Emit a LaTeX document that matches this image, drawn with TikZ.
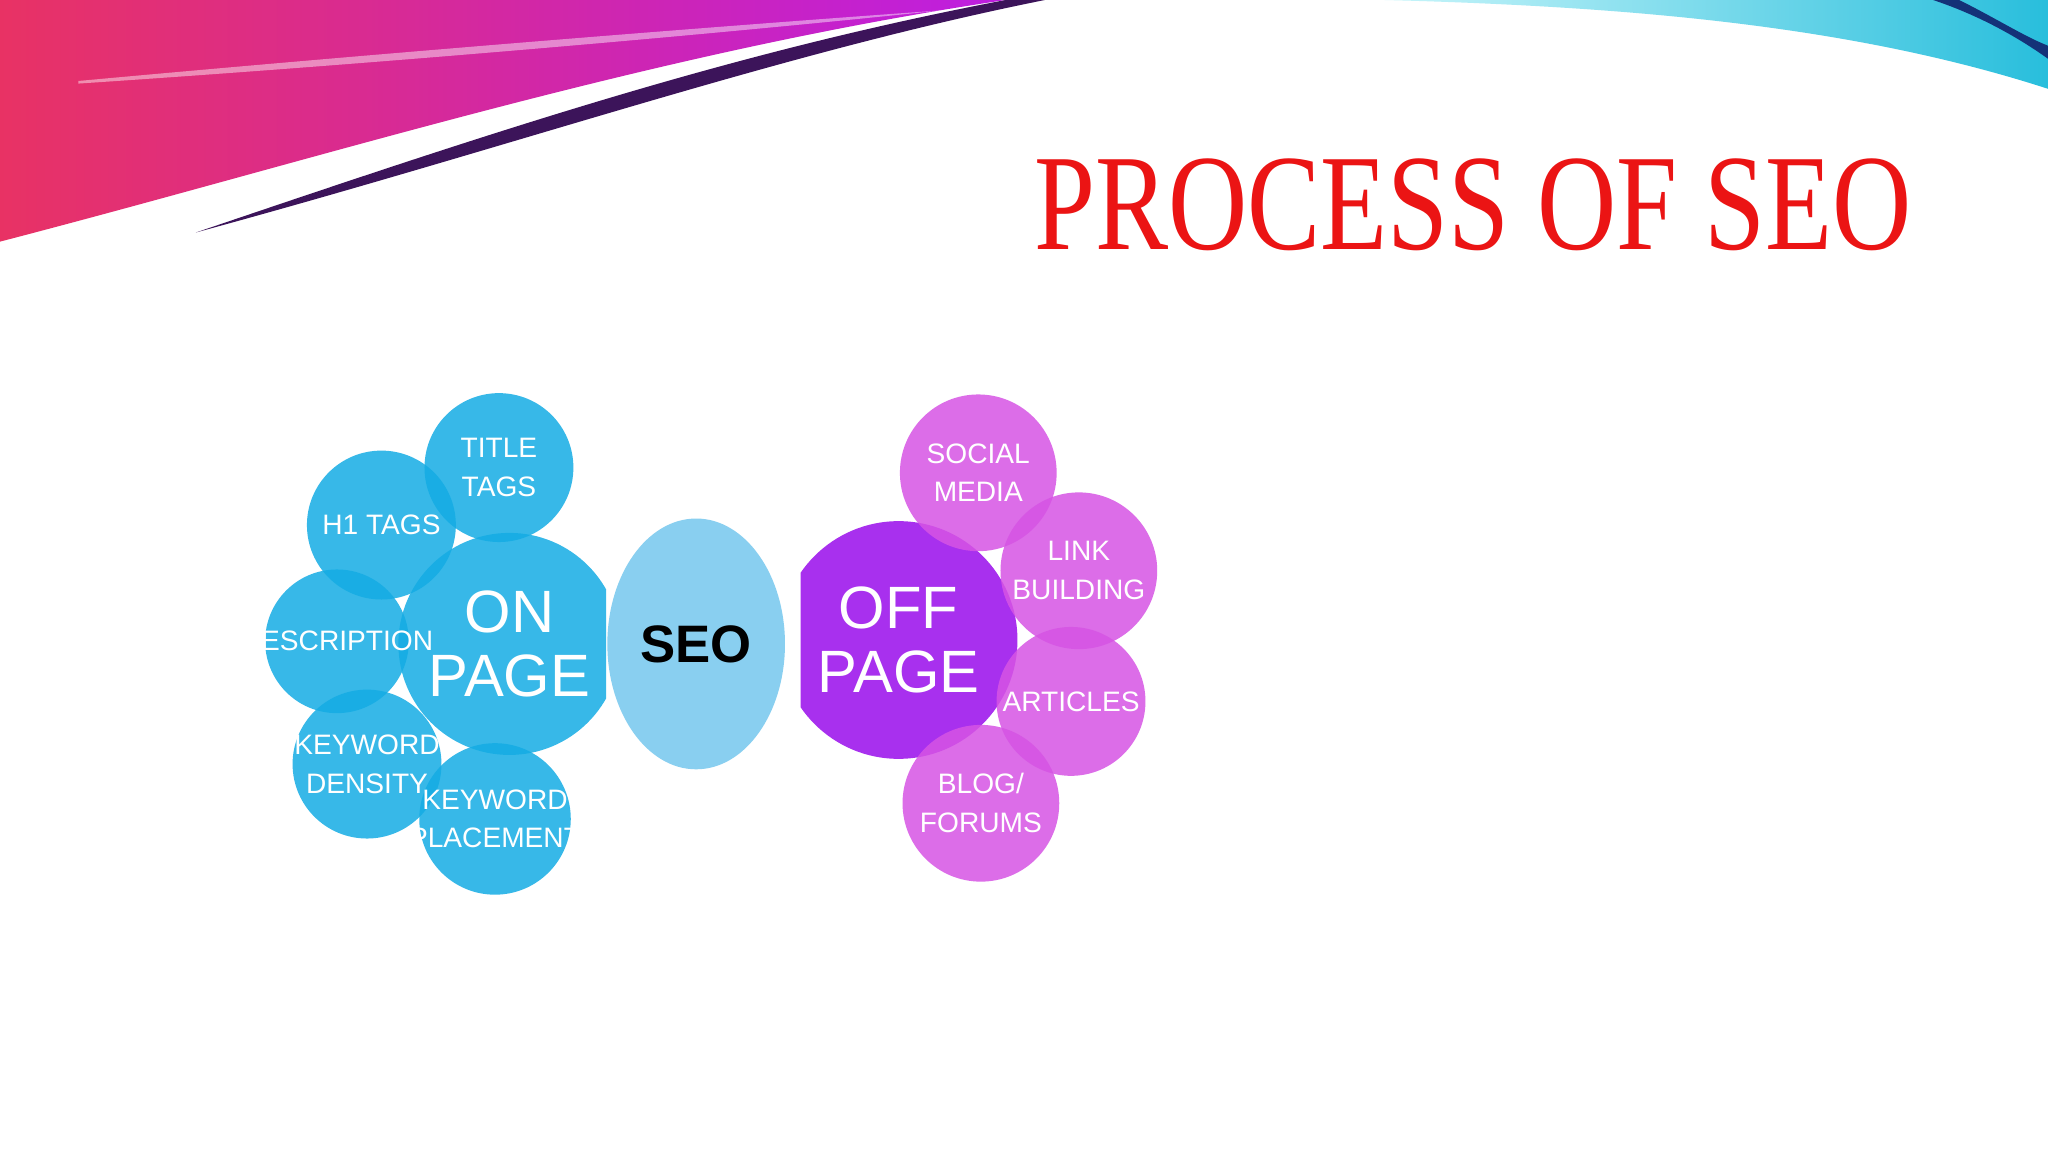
\documentclass[tikz,border=0pt]{standalone}
\usepackage{fontspec}
\setmainfont{Liberation Serif}
\newfontfamily\sans{Liberation Sans}
\usetikzlibrary{shapes.geometric}
\definecolor{blu}{RGB}{20,172,228}
\definecolor{seoc}{RGB}{137,207,240}
\definecolor{purp}{RGB}{168,48,238}
\definecolor{mag}{RGB}{214,84,228}
\definecolor{ttl}{RGB}{235,20,20}
\definecolor{swl}{RGB}{232,50,100}
\definecolor{swr}{RGB}{190,30,225}
\definecolor{swd}{RGB}{60,20,90}
\definecolor{cyl}{RGB}{200,245,250}
\definecolor{cyr}{RGB}{40,190,220}
\definecolor{dbl}{RGB}{20,50,120}
\def\pxu{0.013061cm}
\tikzset{
 bc/.style={circle,fill=blu,fill opacity=0.85,inner sep=0,minimum size=#1*\pxu},
 pc/.style={circle,fill=mag,fill opacity=0.85,inner sep=0,minimum size=#1*\pxu},
 lbl/.style={text=white,font=\sans\fontsize{8}{11}\selectfont,align=center,inner sep=0},
 big/.style={text=white,font=\sans\fontsize{17}{18}\selectfont,align=center,inner sep=0},
}
\begin{document}
\begin{tikzpicture}[x=0.013061cm,y=-0.013061cm]
\useasboundingbox (0,0) rectangle (1568,882);
\fill[white] (0,0) rectangle (1568,882);
% left swoosh
\shade[left color=swl, right color=swr]
 (0,0) -- (770,0) .. controls (500,40) and (250,120) .. (0,185) -- cycle;
\fill[white,opacity=0.45] (60,62) .. controls (300,40) and (550,20) .. (720,8) .. controls (550,26) and (300,48) .. (60,64) -- cycle;
\fill[swd] (150,178) .. controls (400,110) and (600,40) .. (800,0) -- (770,0) .. controls (560,40) and (380,100) .. (150,178) -- cycle;
% right swoosh
\shade[left color=cyl, right color=cyr]
 (1060,0) -- (1568,0) -- (1568,68) .. controls (1420,20) and (1250,5) .. (1060,0) -- cycle;
\fill[dbl] (1480,0) -- (1500,0) .. controls (1530,15) and (1550,28) .. (1568,35) -- (1568,45) .. controls (1540,25) and (1510,10) .. (1480,0) -- cycle;
% title
\node[text=ttl,font=\fontsize{39}{39}\selectfont,xscale=0.8,inner sep=0] (title) at (1128,157) {PROCESS OF SEO};
% blue cluster
\begin{scope}
\clip (195,295) rectangle (464,695);
\node[bc=170] (on) at (390,493) {};
\node[bc=114] (tt) at (382,358) {};
\node[bc=114] (h1) at (292,402) {};
\node[bc=110] (de) at (258,491) {};
\node[bc=114] (kd) at (281,585) {};
\node[bc=116] (kp) at (379,627) {};
\node[big] (ont) at (on.center) {ON\\ PAGE};
\node[lbl] (ttt) at (tt.center) {TITLE\\ TAGS};
\node[lbl] (h1t) at (h1.center) {H1 TAGS};
\node[lbl] (det) at (de.center) {DESCRIPTION};
\node[lbl] (kdt) at (kd.center) {KEYWORD\\ DENSITY};
\node[lbl] (kpt) at (kp.center) {KEYWORD\\ PLACEMENT};
\end{scope}
\node[ellipse,fill=seoc,inner sep=0,minimum width=136*\pxu,minimum height=192*\pxu,font=\sans\bfseries\fontsize{15}{16}\selectfont] (seo) at (533,493) {SEO};
% purple cluster
\begin{scope}
\clip (613,295) rectangle (900,695);
\node[circle,fill=purp,minimum size=182*\pxu,inner sep=0] (off) at (688,490) {};
\node[pc=120] (sm) at (749,362) {};
\node[pc=120] (lb) at (826,437) {};
\node[pc=114] (ar) at (820,537) {};
\node[pc=120] (bf) at (751,615) {};
\node[big] (offt) at (off.center) {OFF\\ PAGE};
\node[lbl] (smt) at (sm.center) {SOCIAL\\ MEDIA};
\node[lbl] (lbt) at (lb.center) {LINK\\ BUILDING};
\node[lbl] (art) at (ar.center) {ARTICLES};
\node[lbl] (bft) at (bf.center) {BLOG/\\ FORUMS};
\end{scope}
\end{tikzpicture}
\end{document}
